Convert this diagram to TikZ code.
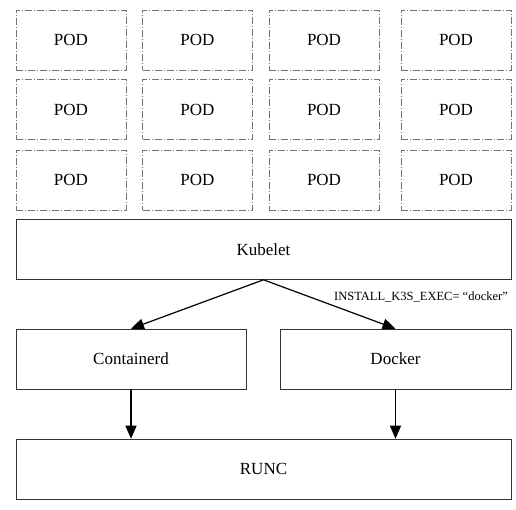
\documentclass[tikz,border=0pt]{standalone}
\usepackage{fontspec}
\setmainfont{Liberation Serif}
\usetikzlibrary{calc,positioning,arrows.meta}

\begin{document}
\begin{tikzpicture}[x=1pt,y=-1pt,
  every node/.style={draw,align=center,inner sep=0pt,font=\fontsize{17}{20}\selectfont},
  podbox/.style={draw=black!55,dash pattern=on 7pt off 2pt on 1pt off 2pt,minimum width=110pt,minimum height=60pt},
  layerbox/.style={draw=black!80,line width=0.6pt,minimum height=60pt},
  flow/.style={-{Triangle[length=13pt,width=11pt]},line width=1.2pt}]
\useasboundingbox (0,0) rectangle (516,510);
% pods
\foreach \row/\y in {1/40,2/109.5,3/180} {
  \foreach \col/\x in {1/71,2/197.5,3/324,4/456} {
    \node [podbox] (Pod\row\col) at (\x,\y) {POD};
  }
}
\node [layerbox,minimum width=495pt] (Kubelet) at (263.5,249.5) {Kubelet};
\node [layerbox,minimum width=230pt] (Containerd) at (131,359) {Containerd};
\node [layerbox,minimum width=231pt] (Docker) at (395.5,359) {Docker};
\node [layerbox,minimum width=495pt] (Runc) at (263.5,469) {RUNC};
\draw [flow] (Kubelet.south) -- (Containerd.north);
\draw [flow] (Kubelet.south) -- (Docker.north);
\node [draw=none,font=\fontsize{12.5}{14}\selectfont] (ExecLabel) at (421,297) {INSTALL\_K3S\_EXEC= “docker”};
\draw [flow] (Containerd.south) -- (Containerd.south |- Runc.north);
\draw [flow] (Docker.south) -- (Docker.south |- Runc.north);
\end{tikzpicture}
\end{document}
